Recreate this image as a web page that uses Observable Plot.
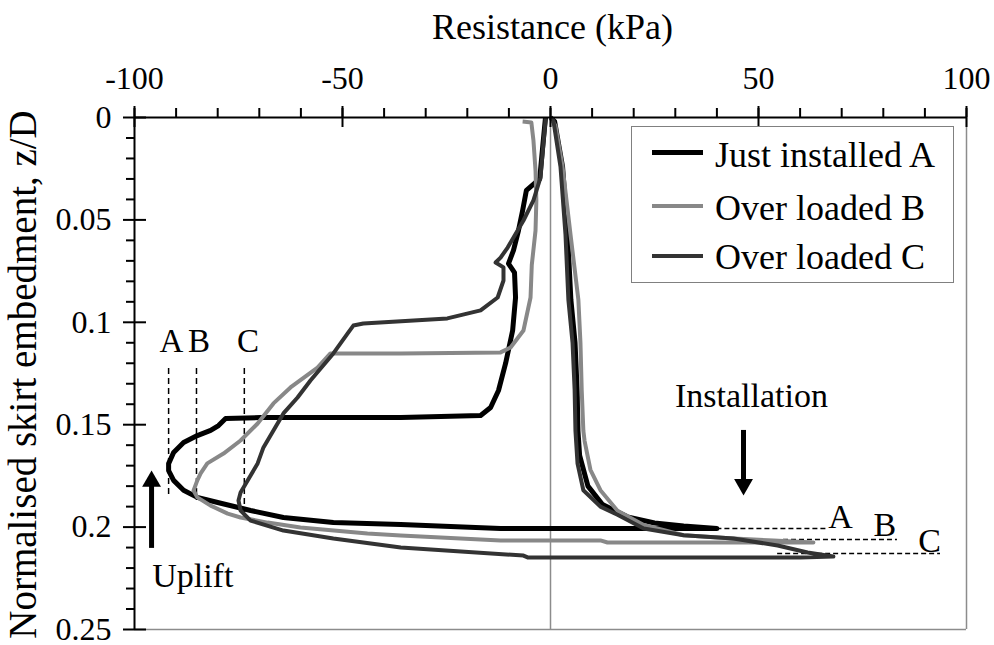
<!DOCTYPE html>
<html><head><meta charset="utf-8">
<script src="https://cdn.jsdelivr.net/npm/d3@7"></script>
<script src="https://cdn.jsdelivr.net/npm/@observablehq/plot@0.6"></script>
<style>
body{margin:0;background:#fff;}
#wrap{position:relative;width:994px;height:645px;font-family:"Liberation Serif","Times New Roman",serif;}
#legend{position:absolute;left:631px;top:126px;width:323px;height:157px;border:1.5px solid #808080;background:#fff;box-sizing:border-box;}
.sw{position:absolute;left:20px;width:51px;}
.lt{position:absolute;left:83px;font-size:36px;line-height:36px;white-space:nowrap;color:#000;}
</style></head><body><div id="wrap"></div>
<script>
// ---- data ----
const seriesNames = ["Just installed A", "Over loaded B", "Over loaded C"];
const seriesColors = ["#000000", "#888888", "#333333"];
const seriesWidths = [5, 4, 4];

// Just installed A : resistance (kPa) and z/D, in path order (installation then uplift)
const aX = [0, 1.0, 2.9, 4.1, 4.9, 5.9, 6.4, 6.6, 7.0, 9.0, 12.5, 18.5, 25, 32, 40,
  0, -12, -36, -52.2, -64.2, -72.1, -80, -84.9, -88.2, -90.6, -91.8, -91.8, -90.6, -88.2, -84.9, -81.7, -79.8, -78.1, -69.7,
  -36, -16.8, -14.4, -12.5, -10.8, -9.1, -8.4, -8.65, -10.1, -8.9, -7.7, -6.7, -5.8, -2.6, -1.8, -1.2];
const aZ = [0, 0.002, 0.024, 0.057, 0.089, 0.110, 0.133, 0.153, 0.165, 0.180, 0.189, 0.195, 0.198, 0.1995, 0.2007,
  0.2007, 0.2007, 0.1987, 0.1978, 0.1953, 0.1919, 0.188, 0.1855, 0.182, 0.1772, 0.1724, 0.169, 0.1636, 0.1587, 0.1553, 0.1528, 0.1504, 0.147, 0.1465,
  0.1465, 0.1455, 0.1416, 0.1333, 0.1201, 0.104, 0.0879, 0.0757, 0.0713, 0.0649, 0.0552, 0.0454, 0.0356, 0.03, 0.0127, 0];

// Over loaded B
const bX = [0, 1.2, 2.9, 4.8, 6.7, 7.2, 7.5, 7.9, 8.2, 9.6, 12, 16.1, 22.4, 32, 44, 53.6, 63.2,
  13.7, 12, -12, -36, -44, -60.1, -68, -74.5, -77.6, -81.7, -84.9, -85.8, -84.9, -84.1, -82.5, -78.6, -74.5, -70.4, -66.6, -62.5, -56, -52.9, -48.8,
  -36, -12, -9.6, -6.5, -4.8, -4.5, -3.6, -3.4, -3.6, -4.1, -4.6, -6.7];
const bZ = [0, 0.004, 0.024, 0.057, 0.089, 0.110, 0.133, 0.153, 0.158, 0.172, 0.182, 0.192, 0.199, 0.204, 0.2056, 0.2065, 0.2075,
  0.2075, 0.2065, 0.2065, 0.2041, 0.2031, 0.2002, 0.1978, 0.1953, 0.1934, 0.1895, 0.1855, 0.1821, 0.1772, 0.1738, 0.1689, 0.1641, 0.1577, 0.1494, 0.1396, 0.1318, 0.1221, 0.1152, 0.1152,
  0.1152, 0.1147, 0.1123, 0.104, 0.0879, 0.072, 0.0552, 0.0405, 0.0259, 0.0112, 0.0024, 0.002];

// Over loaded C
const cX = [0, 0.7, 2.4, 3.6, 4.3, 5.3, 5.8, 6.0, 6.5, 7.9, 12, 16.1, 22.4, 32, 44, 54.6, 61.8, 68,
  60.1, -5.5, -6.5, -36, -52.2, -64.2, -72.1, -74.5, -75, -74.5, -72.8, -70.4, -69, -66.6, -64.2, -60.8, -57.7, -52.2, -48.8, -47.4, -45,
  -24.8, -16.8, -12.7, -11.3, -11.3, -13.2, -12, -10.3, -6.5, -4.1, -2.4, -1.7, -1.2, -1.2];
const cZ = [0, 0.0015, 0.024, 0.057, 0.089, 0.110, 0.133, 0.153, 0.169, 0.182, 0.190, 0.194, 0.2007, 0.204, 0.2056, 0.209, 0.2124, 0.2144,
  0.2148, 0.2148, 0.2139, 0.21, 0.2056, 0.2017, 0.1968, 0.1919, 0.187, 0.1831, 0.1772, 0.1689, 0.1611, 0.1528, 0.1445, 0.1367, 0.1284, 0.1152, 0.1055, 0.1016, 0.1006,
  0.0981, 0.0942, 0.0879, 0.0796, 0.0732, 0.0708, 0.0684, 0.0635, 0.0503, 0.0405, 0.0293, 0.0127, 0.0015, 0];

// axes
const xMajor = [-100, -50, 0, 50, 100];
const xMinor = [-100, -90, -80, -70, -60, -50, -40, -30, -20, -10, 0, 10, 20, 30, 40, 50, 60, 70, 80, 90, 100];
const yMajor = [0, 0.05, 0.1, 0.15, 0.2, 0.25];
const yMajorLabels = ["0", "0.05", "0.1", "0.15", "0.2", "0.25"];
const yMinor = [0.01, 0.02, 0.03, 0.04, 0.06, 0.07, 0.08, 0.09, 0.11, 0.12, 0.13, 0.14, 0.16, 0.17, 0.18, 0.19, 0.21, 0.22, 0.23, 0.24];

// annotations
const peakLabels = ["A", "B", "C"];
const peakUpliftX = [-91.8, -85.1, -73.6];
const peakUpliftTop = [0.1226, 0.1226, 0.1226];
const peakUpliftBottom = [0.1855, 0.187, 0.1934];
const peakUpliftLabelX = [-91.1, -84.5, -72.7];
const peakUpliftLabelZ = [0.1095, 0.1095, 0.1095];
const peakInstallZ = [0.2007, 0.206, 0.2129];
const peakInstallFrom = [40, 56, 54.6];
const peakInstallTo = [66.6, 83.4, 93.75];
const peakInstallLabelX = [69.7, 80.4, 91.1];
const peakInstallLabelZ = [0.1953, 0.1992, 0.207];
const noteText = ["Installation", "Uplift"];
const noteX = [48.3, -86];
const noteZ = [0.1362, 0.2241];
const arrowX = [46.4, -95.9];
const arrowFrom = [0.1528, 0.2104];
const arrowHeadZ = [0.1792, 0.1777];
const arrowRotate = [180, 0];

// ---- build ----
const rows = (X, Z) => X.map((x, i) => ({x, z: Z[i]}));
const series = [rows(aX, aZ), rows(bX, bZ), rows(cX, cZ)];
const idx3 = [0, 1, 2];
const idx2 = [0, 1];
const serif = "Liberation Serif";

const chart = Plot.plot({
  width: 994, height: 645,
  marginTop: 117, marginLeft: 134, marginRight: 28, marginBottom: 16,
  x: {domain: [-100, 100], axis: null},
  y: {domain: [0, 0.25], reverse: true, axis: null},
  style: {fontFamily: serif, fontSize: "32px", background: "#fff", color: "#000", overflow: "visible"},
  marks: [
    Plot.ruleX([0], {stroke: "#8c8c8c", strokeWidth: 1.5}),
    Plot.ruleY([0.25], {stroke: "#8c8c8c", strokeWidth: 1.5}),
    Plot.ruleX([100], {stroke: "#8c8c8c", strokeWidth: 1.5}),
    // dashed guides
    Plot.ruleX(idx3, {x: i => peakUpliftX[i], y1: i => peakUpliftTop[i], y2: i => peakUpliftBottom[i], stroke: "#000", strokeWidth: 1.5, strokeDasharray: "6,4"}),
    Plot.ruleY(idx3, {y: i => peakInstallZ[i], x1: i => peakInstallFrom[i], x2: i => peakInstallTo[i], stroke: "#000", strokeWidth: 1.5, strokeDasharray: "5,3"}),
    // curves
    ...idx3.map(k => Plot.line(series[k], {x: "x", y: "z", stroke: seriesColors[k], strokeWidth: seriesWidths[k], strokeLinejoin: "round", strokeLinecap: "butt"})),
    // axis lines
    Plot.ruleY([0], {stroke: "#000", strokeWidth: 2}),
    Plot.ruleX([-100], {stroke: "#000", strokeWidth: 2}),
    // top ticks
    Plot.ruleX(xMinor, {y1: 0, y2: 0, insetTop: -9, insetBottom: 0, stroke: "#000", strokeWidth: 2}),
    Plot.ruleX(xMajor, {y1: 0, y2: 0, insetTop: -11, insetBottom: -10, stroke: "#000", strokeWidth: 2}),
    // left ticks
    Plot.ruleY(yMinor, {x1: -100, x2: -100, insetLeft: -8, insetRight: 0, stroke: "#000", strokeWidth: 2}),
    Plot.ruleY(yMajor, {x1: -100, x2: -100, insetLeft: -11, insetRight: -12, stroke: "#000", strokeWidth: 2}),
    // tick labels
    Plot.text(xMajor, {x: d => d, frameAnchor: "top", textAnchor: "middle", lineAnchor: "bottom", dy: -29, text: d => String(d), fontSize: 32, fontFamily: serif}),
    Plot.text(yMajor, {y: d => d, frameAnchor: "left", textAnchor: "end", dx: -23, text: (d, i) => yMajorLabels[i], fontSize: 32, fontFamily: serif}),
    // titles
    Plot.text(["Resistance (kPa)"], {frameAnchor: "top", textAnchor: "middle", lineAnchor: "bottom", dy: -79, dx: 2, fontSize: 36, fontFamily: serif}),
    Plot.text(["Normalised skirt embedment, z/D"], {frameAnchor: "left", textAnchor: "middle", rotate: -90, lineAnchor: "bottom", dx: -99, dy: 1, fontSize: 39, fontFamily: serif}),
    // annotations
    Plot.text(idx3, {x: i => peakUpliftLabelX[i], y: i => peakUpliftLabelZ[i], text: i => peakLabels[i], fontSize: 33, fontFamily: serif}),
    Plot.text(idx3, {x: i => peakInstallLabelX[i], y: i => peakInstallLabelZ[i], text: i => peakLabels[i], fontSize: 34, fontFamily: serif}),
    Plot.text(idx2, {x: i => noteX[i], y: i => noteZ[i], text: i => noteText[i], fontSize: 34, fontFamily: serif}),
    Plot.ruleX(idx2, {x: i => arrowX[i], y1: i => arrowFrom[i], y2: i => arrowHeadZ[i], stroke: "#000", strokeWidth: 5}),
    Plot.dot(idx2, {x: i => arrowX[i], y: i => arrowHeadZ[i], symbol: "triangle", r: 7, fill: "#000", stroke: "none", rotate: i => arrowRotate[i]})
  ]
});

const wrap = document.getElementById("wrap");
wrap.appendChild(chart);

// legend
const legend = document.createElement("div");
legend.id = "legend";
const swatchTops = [25, 79, 129];
const textTops = [10, 63, 112];
idx3.forEach(k => {
  const sw = document.createElement("div");
  sw.className = "sw";
  sw.style.top = (swatchTops[k] - seriesWidths[k] / 2) + "px";
  sw.style.height = seriesWidths[k] + "px";
  sw.style.background = seriesColors[k];
  legend.appendChild(sw);
  const t = document.createElement("div");
  t.className = "lt";
  t.style.top = textTops[k] + "px";
  t.textContent = seriesNames[k];
  legend.appendChild(t);
});
wrap.appendChild(legend);
</script></body></html>
